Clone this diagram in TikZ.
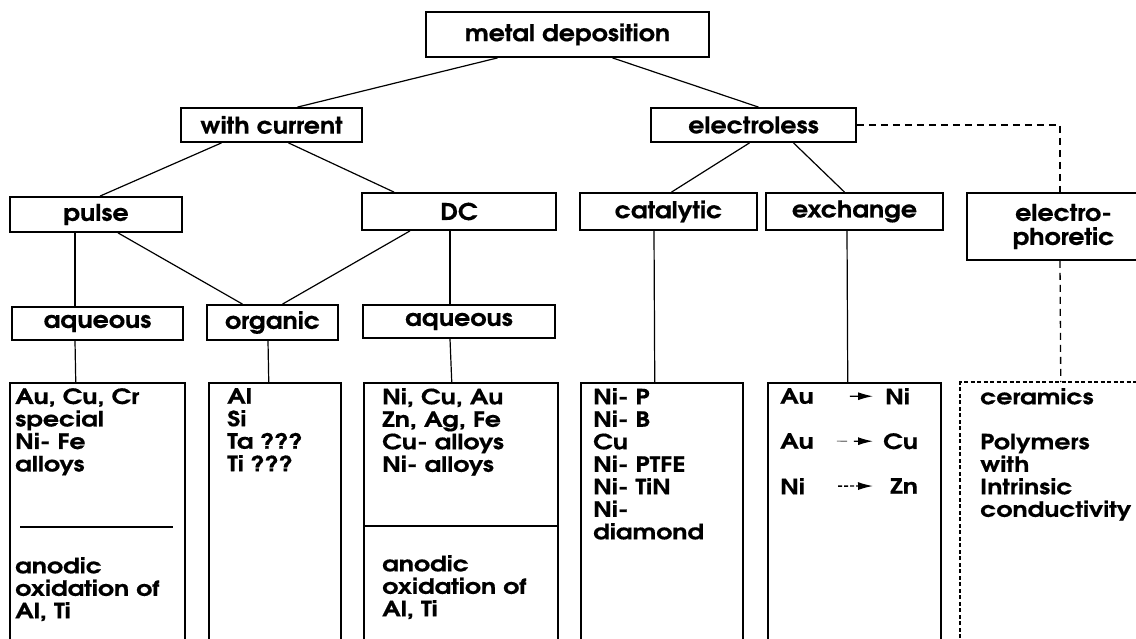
\documentclass[tikz,border=0pt]{standalone}
\usepackage{fontspec}
\setmainfont{texgyreadventor}[Extension=.otf, UprightFont=*-bold, BoldFont=*-bold, FakeStretch=1.2, FakeBold=0.5]
\newfontfamily\lblfont{texgyreadventor}[Extension=.otf, UprightFont=*-bold, FakeStretch=1.1, FakeBold=0.5]
\usetikzlibrary{arrows.meta}

\tikzset{
  box/.style={draw, line width=1.8pt, inner sep=0pt, font=\lblfont\fontsize{23}{24}\selectfont},
  col/.style={draw, line width=1.5pt, inner sep=0pt, anchor=north west, minimum height=300pt},
  txt/.style={inner sep=0pt, align=left, anchor=north west, font=\fontsize{21}{22.5}\selectfont},
  link/.style={line width=1.2pt},
  dlink/.style={line width=1.3pt, dash pattern=on 7pt off 5pt},
  tip/.style={line width=1.3pt, -{Latex[length=15pt,width=8pt]}},
}

\begin{document}
\begin{tikzpicture}[x=1pt,y=-1pt]
\useasboundingbox (0,0) rectangle (1136,639);
\clip (0,0) rectangle (1136,639);

% tree of labels
\node[box, minimum width=283pt, minimum height=45pt] (md) at (567.5,34.5) {metal deposition};
\node[box, minimum width=181pt, minimum height=34pt] (wc) at (271.5,125) {with current};
\node[box, minimum width=205pt, minimum height=34pt] (el) at (753.5,125) {electroless};

\node[box, minimum width=172pt, minimum height=35pt] (pu) at (96,214.5) {pulse};
\node[box, minimum width=194pt, minimum height=37pt] (dc) at (459,211.5) {DC};
\node[box, minimum width=177pt, minimum height=37pt] (cat) at (668.5,211.5) {catalytic};
\node[box, minimum width=177pt, minimum height=37pt] (ex) at (854.5,211.5) {exchange};
\node[box, minimum width=193pt, minimum height=67pt, align=center] (ep) at (1063.5,226.5) {electro-\\phoretic};

\node[box, minimum width=171pt, minimum height=33pt] (aq1) at (97.5,323.5) {aqueous};
\node[box, minimum width=131pt, minimum height=35pt] (org) at (272.5,322.5) {organic};
\node[box, minimum width=192pt, minimum height=33pt] (aq2) at (459,321.5) {aqueous};

% open columns at the foot
\node[col, minimum width=175pt] (b1) at (9,382) {};
\node[col, minimum width=132pt] (b2) at (208,382) {};
\node[col, minimum width=194pt] (b3) at (363,382) {};
\node[col, minimum width=162pt] (b4) at (580,382) {};
\node[col, minimum width=173pt] (b5) at (767,382) {};
\node[col, minimum width=200pt, draw=none] (b6) at (960,382) {};
\draw[line width=1.2pt, dash pattern=on 4pt off 2.5pt] (b6.south west) -- (b6.north west) -- (b6.north east);

% connectors
\draw[link] ([xshift=-70pt]md.south) -- ([xshift=26pt]wc.north);
\draw[link] ([xshift=45pt]md.south) -- ([xshift=5pt]el.north);
\draw[link] ([xshift=-50pt]wc.south) -- ([xshift=4pt]pu.north);
\draw[link] ([xshift=17pt]wc.south) -- ([xshift=-65pt]dc.north);
\draw[link] ([xshift=-4pt]el.south) -- ([xshift=3pt]cat.north);
\draw[link] ([xshift=40pt]el.south) -- ([xshift=-10pt]ex.north);

\draw[link] ([xshift=22pt]pu.south) -- ([xshift=-30pt]org.north);
\draw[link] ([xshift=-49pt]dc.south) -- ([xshift=10pt]org.north);
\draw[link] ([xshift=-21pt]pu.south) -- ([xshift=-22.5pt]aq1.north);
\draw[link] ([xshift=-9pt]dc.south) -- ([xshift=-9pt]aq2.north);

\draw[link] ([xshift=-22.5pt]aq1.south) -- ([xshift=-21.5pt]b1.north);
\draw[link] ([xshift=-4.5pt]org.south) -- ([xshift=-6pt]b2.north);
\draw[link] ([xshift=-9pt]aq2.south) -- ([xshift=-9pt]b3.north);
\draw[link] ([xshift=-14.5pt]cat.south) -- ([xshift=-7pt]b4.north);
\draw[link] ([xshift=-7.5pt]ex.south) -- ([xshift=-6.5pt]b5.north);

\draw[dlink] (el.east) -| ([xshift=-3.5pt]ep.north);
\draw[dlink] ([xshift=-3.5pt]ep.south) -- (b6.north);

% contents of the columns
\node[txt] (t1) at (15,388) {Au, Cu, Cr\\special\\Ni- Fe\\alloys};
\draw[link] (20,527) -- (173,527);
\node[txt] (t1b) at (15,557) {anodic\\oxidation of\\Al, Ti};

\node[txt] (t2) at (227,388) {Al\\Si\\Ta ???\\Ti ???};

\node[txt] (t3) at (382,388) {Ni, Cu, Au\\Zn, Ag, Fe\\Cu- alloys\\Ni- alloys};
\draw[link] (b3.west |- 0,526) -- (b3.east |- 0,526);
\node[txt] (t3b) at (382,555) {anodic\\oxidation of\\Al, Ti};

\node[txt] (t4) at (593,388) {Ni- P\\Ni- B\\Cu\\Ni- PTFE\\Ni- TiN\\Ni-\\diamond};

\node[txt] (au1) at (780,388) {Au};
\node[txt] (ni1) at (885,388) {Ni};
\node[txt] (au2) at (780,433) {Au};
\node[txt] (cu2) at (883,433) {Cu};
\node[txt] (ni3) at (780,478) {Ni};
\node[txt] (zn3) at (890,478) {Zn};
\draw[tip, shorten <=36pt, shorten >=12pt] (au1.east) -- (ni1.west);
\draw[line width=1.2pt, gray, shorten <=23pt, shorten >=36pt] (au2.east) -- (cu2.west);
\draw[tip, shorten <=40pt, shorten >=10pt] (au2.east) -- (cu2.west);
\draw[tip, dash pattern=on 4pt off 2pt, shorten <=33pt, shorten >=17pt] (ni3.east) -- (zn3.west);

\node[txt] (t6) at (980,388) {ceramics\\[22.5pt]Polymers\\with\\Intrinsic\\conductivity};

\end{tikzpicture}
\end{document}
